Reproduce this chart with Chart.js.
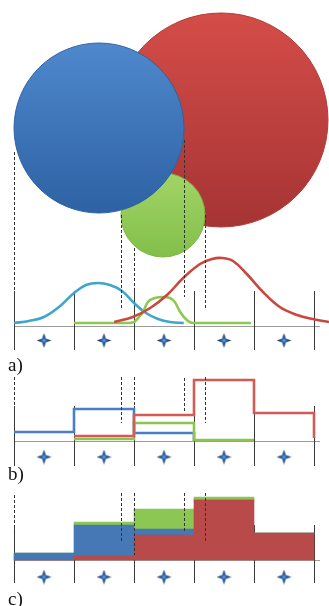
<!DOCTYPE html>
<html>
<head>
<meta charset="utf-8">
<script src="https://cdn.jsdelivr.net/npm/chart.js@4.4.1/dist/chart.umd.min.js"></script>
<style>
  html, body { margin: 0; padding: 0; background: #fff; overflow: hidden; }
  #wrap { position: relative; width: 329px; height: 606px; }
  .lbl { position: absolute; left: 8px; font: 19px/19px "Liberation Serif", "DejaVu Serif", serif; color: #111; }
</style>
</head>
<body>
<div id="wrap">
  <canvas id="fig" width="329" height="606"></canvas>
  <div class="lbl" style="top:355px">a)</div>
  <div class="lbl" style="top:464px">b)</div>
  <div class="lbl" style="top:589px">c)</div>
</div>
<script>
// five bins on the shared horizontal axis
const binEdges = [0, 1, 2, 3, 4, 5];
const binCentres = [0.5, 1.5, 2.5, 3.5, 4.5];

// circles (red, green, blue): centre in bin units / height over panel a, radius
const circleX = [3.45, 2.483, 1.417];
const circleY = [206, 111, 198];
const circleR = [107, 42, 85];

// a) density curves
const blueCurveX = [0, 0.25, 0.5, 0.75, 1.0, 1.2, 1.4, 1.6, 1.8, 2.0, 2.2, 2.4, 2.6, 2.83];
const blueCurveY = [3, 5, 9, 19, 33, 41, 43, 41, 35, 23, 13, 7, 4, 3];
const greenCurveX = [1.0, 1.9, 2.0, 2.07, 2.15, 2.23, 2.35, 2.47, 2.6, 2.68, 2.77, 2.88, 2.98, 3.95];
const greenCurveY = [3, 3, 4, 8, 14, 24, 28, 29, 28, 24, 14, 6, 3, 3];
const redCurveX = [1.67, 1.98, 2.27, 2.55, 2.82, 3.1, 3.3, 3.47, 3.65, 3.88, 4.15, 4.43, 4.72, 4.98, 5.25];
const redCurveY = [4, 9, 18, 31, 48, 62, 67, 68, 65, 52, 34, 19, 11, 7, 4];

// b) step levels, one per bin edge
const blueStep = [9, 32, 8, 0];      // from edge 0
const redStep = [5, 26, 61, 28, 3];  // from edge 1
const greenStep = [2, 18, 1, 1];     // from edge 1

// c) stacked bars per bin
const redBar = [0, 4, 25, 60, 27];
const blueBar = [7, 31, 6, 0, 0];
const greenBar = [0, 3, 20, 3, 0];

// dashed guides at the circle edges
const guideX = [0, 1.783, 2, 2.833, 3.183];

const panels = {
  yA: { star: -14.5, tick: [35, -24], dash: [[174, 34], [111, 18], [78, 34], [186, 29], [111, 18]] },
  yB: { star: -16, tick: [35, -25], dash: [[64, 34], [64, 18], [64, 34], [63, 28], [64, 18]] },
  yC: { star: -17, tick: [35, -23], dash: [[65, 25], [67, 18], [67, 5], [67, 28], [67, 18]] }
};

const zip = (xs, ys) => xs.map((x, i) => ({ x, y: ys[i] }));
const steps = (start, levels) => levels.map((y, i) => ({ x: binEdges[start + i], y }));
const bars = vals => binCentres.map((x, i) => ({ x, y: vals[i] }));

function makeStar() {
  const c = document.createElement('canvas');
  c.width = 15; c.height = 15;
  const g = c.getContext('2d');
  const m = 7.5, k = 1.9;
  g.beginPath();
  g.moveTo(m, 0.3); g.lineTo(m + k, m - k); g.lineTo(14.7, m); g.lineTo(m + k, m + k);
  g.lineTo(m, 14.7); g.lineTo(m - k, m + k); g.lineTo(0.3, m); g.lineTo(m - k, m - k);
  g.closePath();
  const grad = g.createRadialGradient(m, m, 0, m, m, 7);
  grad.addColorStop(0, '#6aa8e8');
  grad.addColorStop(0.3, '#2f67b0');
  grad.addColorStop(1, '#121f3e');
  g.fillStyle = grad;
  g.fill();
  return c;
}
const star = makeStar();

const circleShade = [
  ['#d44d48', '#a63434', '#b23a37'],
  ['#a2d466', '#82bf4a', '#7ab545'],
  ['#4f88cc', '#2d62a4', '#2f62a2']
];

function circleFill(ctx) {
  const chart = ctx.chart;
  const i = ctx.dataIndex;
  if (!chart.chartArea || i === undefined) return circleShade[0][0];
  const cy = chart.scales.yA.getPixelForValue(circleY[i]);
  const r = circleR[i];
  const g = chart.ctx.createLinearGradient(0, cy - r, 0, cy + r);
  g.addColorStop(0, circleShade[i][0]);
  g.addColorStop(1, circleShade[i][1]);
  return g;
}

const guides = {
  id: 'guides',
  beforeDatasetsDraw(chart) {
    const { ctx } = chart;
    const x = chart.scales.x;
    ctx.save();
    ctx.lineWidth = 1;
    Object.keys(panels).forEach(id => {
      const y = chart.scales[id];
      const p = panels[id];
      const y0 = Math.round(y.getPixelForValue(0)) + 0.5;
      ctx.strokeStyle = '#9c9c9c';
      ctx.beginPath();
      ctx.moveTo(x.getPixelForValue(binEdges[0]), y0);
      ctx.lineTo(x.getPixelForValue(5.1), y0);
      ctx.stroke();
      ctx.strokeStyle = '#3a3a3a';
      ctx.beginPath();
      binEdges.forEach(e => {
        const px = Math.round(x.getPixelForValue(e)) + 0.5;
        ctx.moveTo(px, y.getPixelForValue(p.tick[0]));
        ctx.lineTo(px, y.getPixelForValue(p.tick[1]));
      });
      ctx.stroke();
    });
    ctx.restore();
  },
  afterDatasetsDraw(chart) {
    const { ctx } = chart;
    const x = chart.scales.x;
    ctx.save();
    ctx.lineWidth = 1;
    ctx.strokeStyle = '#333';
    ctx.setLineDash([3, 2]);
    Object.keys(panels).forEach(id => {
      const y = chart.scales[id];
      ctx.beginPath();
      guideX.forEach((gx, i) => {
        const px = Math.round(x.getPixelForValue(gx)) + 0.5;
        const [top, bottom] = panels[id].dash[i];
        ctx.moveTo(px, y.getPixelForValue(top));
        ctx.lineTo(px, y.getPixelForValue(bottom));
      });
      ctx.stroke();
    });
    ctx.restore();
  }
};

const curve = (data, color, mode) => ({
  type: 'line', data, yAxisID: 'yA', borderColor: color, borderWidth: 2.6,
  pointRadius: 0, fill: false, cubicInterpolationMode: mode, tension: 0.4
});
const stepLine = (data, color) => ({
  type: 'line', data, yAxisID: 'yB', borderColor: color, borderWidth: 2.6,
  pointRadius: 0, fill: false, stepped: true
});
const bar = (data, color) => ({
  type: 'bar', data, yAxisID: 'yC', backgroundColor: color, borderWidth: 0,
  grouped: false, stack: 'c', barPercentage: 1, categoryPercentage: 1
});
const stars = id => ({
  type: 'line', data: binCentres.map(x => ({ x, y: panels[id].star })), yAxisID: id,
  showLine: false, pointStyle: star, pointRadius: 7
});

new Chart(document.getElementById('fig'), {
  data: {
    datasets: [
      stars('yA'), stars('yB'), stars('yC'),
      curve(zip(redCurveX, redCurveY), '#c9473f', 'default'),
      curve(zip(greenCurveX, greenCurveY), '#8cc852', 'monotone'),
      curve(zip(blueCurveX, blueCurveY), '#3fa6c9', 'default'),
      stepLine(steps(1, redStep), '#d25a57'),
      stepLine(steps(1, greenStep), '#8cc54e'),
      stepLine(steps(0, blueStep), '#4a7fc6'),
      bar(bars(redBar), '#b94a4a'),
      bar(bars(blueBar), '#4678b6'),
      bar(bars(greenBar), '#8cc653'),
      {
        type: 'bubble', yAxisID: 'yA',
        data: circleX.map((x, i) => ({ x, y: circleY[i], r: circleR[i] })),
        backgroundColor: circleFill,
        borderColor: ctx => circleShade[ctx.dataIndex] ? circleShade[ctx.dataIndex][2] : '#888',
        borderWidth: 1
      }
    ]
  },
  options: {
    responsive: false,
    animation: false,
    events: [],
    layout: { padding: 0, autoPadding: false },
    plugins: { legend: { display: false }, tooltip: { enabled: false } },
    scales: {
      x: { type: 'linear', offset: false, min: -14 / 60, max: 315 / 60, display: false },
      yA: { type: 'linear', position: 'left', min: -280, max: 326, display: false },
      yB: { type: 'linear', position: 'left', min: -165, max: 441, display: false },
      yC: { type: 'linear', position: 'left', min: -46, max: 560, display: false, stacked: true }
    }
  },
  plugins: [guides]
});
</script>
</body>
</html>
